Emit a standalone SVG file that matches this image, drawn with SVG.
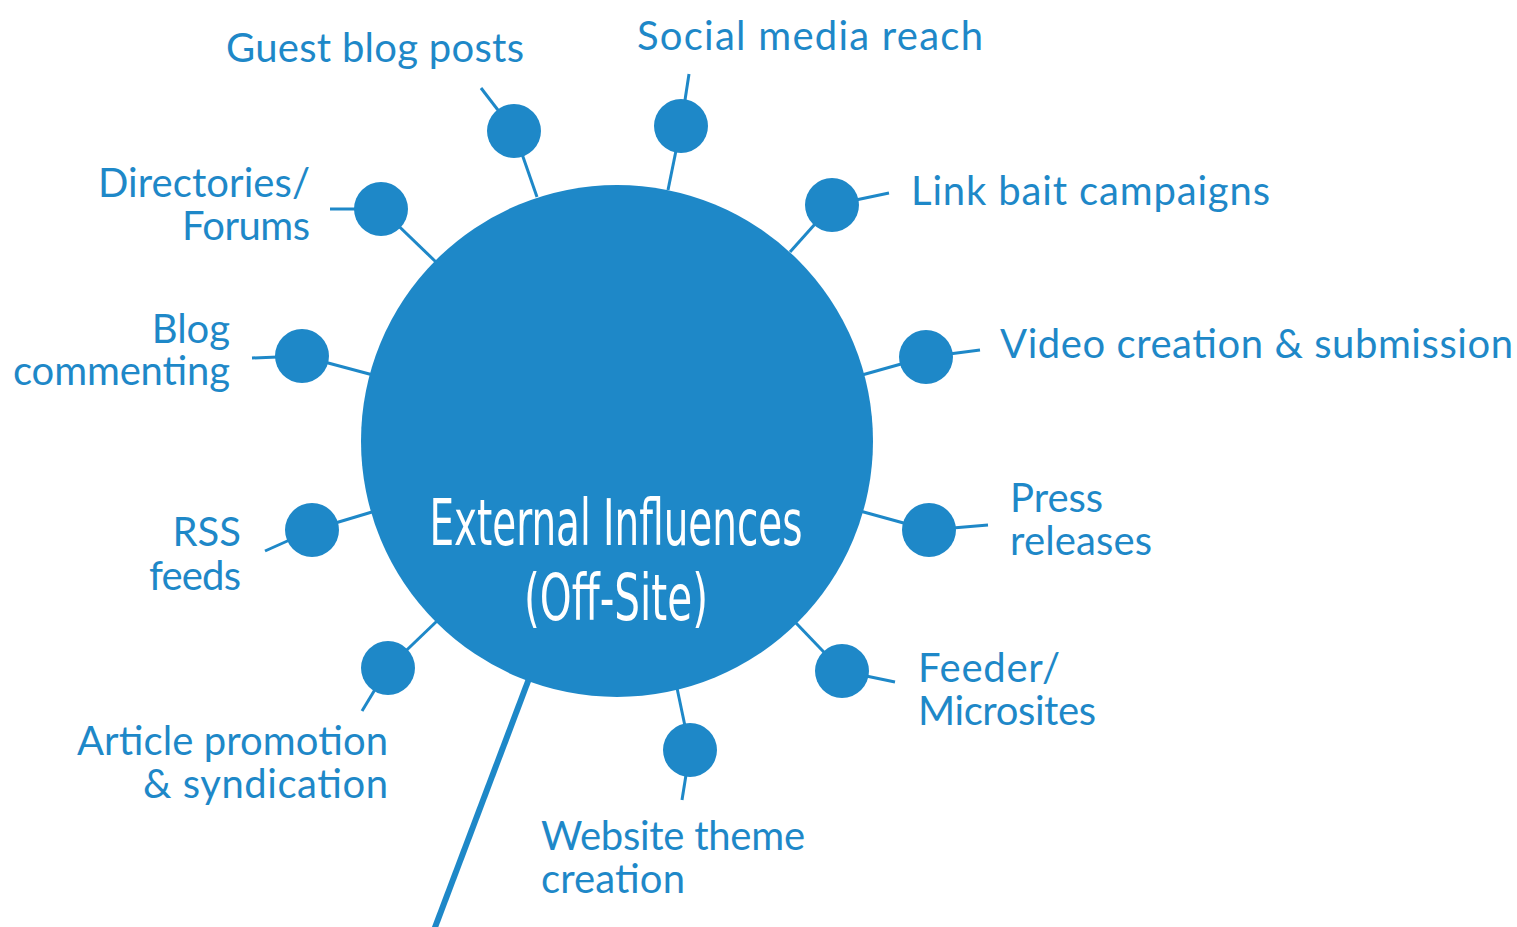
<svg xmlns="http://www.w3.org/2000/svg" width="1517" height="927" viewBox="0 0 1517 927">
<style>
.lbl{font-family:Lato,"Noto Sans",sans-serif;font-size:40px;fill:#1e88c8}
.dot{fill:#1e88c8}
.ln{stroke:#1e88c8;stroke-width:3;fill:none;stroke-linecap:butt}
.ctr{font-family:"Liberation Sans Narrow","DejaVu Sans Condensed","Roboto Condensed",sans-serif;font-stretch:condensed;font-size:64px;fill:#ffffff}
</style>
<rect width="1517" height="927" fill="#ffffff"/>
<g id="connectors">
<line class="ln" x1="481" y1="88" x2="514" y2="131"/><line class="ln" x1="514" y1="131" x2="537" y2="197"/>
<line class="ln" x1="689" y1="74" x2="681" y2="126"/><line class="ln" x1="681" y1="126" x2="668" y2="190"/>
<line class="ln" x1="889" y1="193" x2="832" y2="205"/><line class="ln" x1="832" y1="205" x2="790" y2="252"/>
<line class="ln" x1="980" y1="350" x2="926" y2="357"/><line class="ln" x1="926" y1="357" x2="862" y2="375"/>
<line class="ln" x1="988" y1="525" x2="929" y2="530"/><line class="ln" x1="929" y1="530" x2="860" y2="511"/>
<line class="ln" x1="895" y1="682" x2="842" y2="671"/><line class="ln" x1="842" y1="671" x2="796" y2="623"/>
<line class="ln" x1="682" y1="800" x2="690" y2="750"/><line class="ln" x1="690" y1="750" x2="677" y2="688"/>
<line class="ln" x1="362" y1="711" x2="388" y2="668"/><line class="ln" x1="388" y1="668" x2="437" y2="621"/>
<line class="ln" x1="265" y1="551" x2="312" y2="530"/><line class="ln" x1="312" y1="530" x2="372" y2="512"/>
<line class="ln" x1="252" y1="358" x2="302" y2="356"/><line class="ln" x1="302" y1="356" x2="373" y2="375"/>
<line class="ln" x1="330" y1="209" x2="381" y2="209"/><line class="ln" x1="381" y1="209" x2="437" y2="263"/>
<line x1="530" y1="676" x2="434" y2="930" stroke="#1e88c8" stroke-width="6"/>
</g>
<g id="center"><circle class="dot" cx="617" cy="441" r="256"/>
<text class="ctr" x="616" y="545" text-anchor="middle" textLength="373" lengthAdjust="spacingAndGlyphs">External Influences</text>
<text class="ctr" x="616" y="620" text-anchor="middle" textLength="184" lengthAdjust="spacingAndGlyphs">(Off-Site)</text></g>
<g id="n-guest"><circle class="dot" cx="514" cy="131" r="27"/><text class="lbl" x="226" y="62" textLength="298">Guest blog posts</text></g>
<g id="n-social"><circle class="dot" cx="681" cy="126" r="27"/><text class="lbl" x="637" y="50" textLength="346">Social media reach</text></g>
<g id="n-linkbait"><circle class="dot" cx="832" cy="205" r="27"/><text class="lbl" x="911" y="205" textLength="359">Link bait campaigns</text></g>
<g id="n-video"><circle class="dot" cx="926" cy="357" r="27"/><text class="lbl" x="1000" y="358" textLength="513">Video creation &amp; submission</text></g>
<g id="n-press"><circle class="dot" cx="929" cy="530" r="27"/><text class="lbl" x="1010" y="512">Press</text><text class="lbl" x="1010" y="555" textLength="142">releases</text></g>
<g id="n-feeder"><circle class="dot" cx="842" cy="671" r="27"/><text class="lbl" x="918" y="682" textLength="142">Feeder/</text><text class="lbl" x="918" y="725" textLength="178">Microsites</text></g>
<g id="n-website"><circle class="dot" cx="690" cy="750" r="27"/><text class="lbl" x="541" y="850" textLength="264">Website theme</text><text class="lbl" x="541" y="893" textLength="144">creation</text></g>
<g id="n-article"><circle class="dot" cx="388" cy="668" r="27"/><text class="lbl" x="388" y="755" text-anchor="end" textLength="311">Article promotion</text><text class="lbl" x="388" y="798" text-anchor="end" textLength="245">&amp; syndication</text></g>
<g id="n-rss"><circle class="dot" cx="312" cy="530" r="27"/><text class="lbl" x="241" y="546" text-anchor="end">RSS</text><text class="lbl" x="241" y="590" text-anchor="end" textLength="92">feeds</text></g>
<g id="n-blog"><circle class="dot" cx="302" cy="356" r="27"/><text class="lbl" x="230" y="343" text-anchor="end">Blog</text><text class="lbl" x="230" y="385" text-anchor="end" textLength="217">commenting</text></g>
<g id="n-dir"><circle class="dot" cx="381" cy="209" r="27"/><text class="lbl" x="310" y="197" text-anchor="end" textLength="212">Directories/</text><text class="lbl" x="310" y="240" text-anchor="end" textLength="128">Forums</text></g>
</svg>
